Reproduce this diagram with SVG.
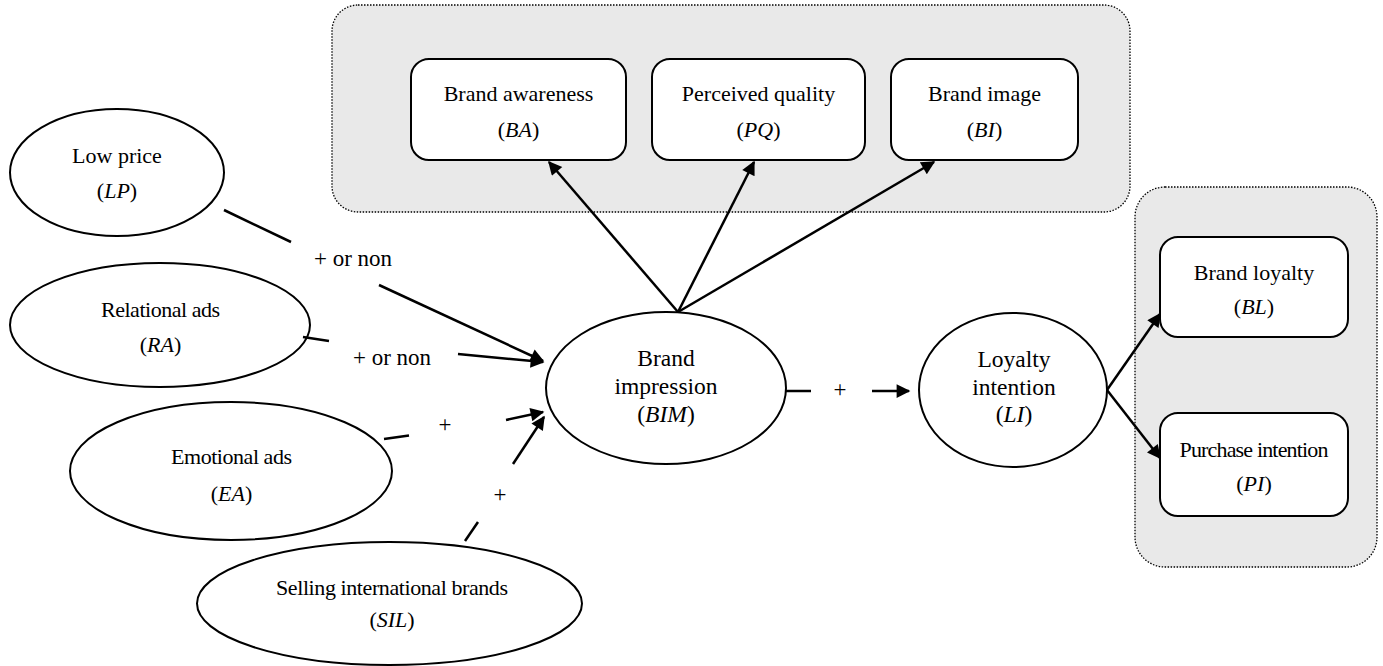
<svg xmlns="http://www.w3.org/2000/svg" width="1383" height="666" viewBox="0 0 1383 666">
<style>
.grp{fill:#e9e9e9;stroke:#000;stroke-width:1.3;stroke-dasharray:1.5 1.5}
.box{fill:#fff;stroke:#000;stroke-width:2}
.ell{fill:#fff;stroke:#000;stroke-width:2}
text{font-family:'Liberation Serif','Times New Roman',serif;font-size:22px;fill:#000;text-anchor:middle}
.big{font-size:23.5px}
.lbl{font-size:23px}
.c{stroke:#000;stroke-width:2.5;fill:none}
.ca{stroke:#000;stroke-width:2.5;fill:none;marker-end:url(#ah)}
</style>
<defs>
<marker id="ah" viewBox="0 0 10 10" refX="9" refY="5" markerWidth="7" markerHeight="5.5" orient="auto" markerUnits="strokeWidth">
<path d="M0,0 L10,5 L0,10 z" fill="#000"/>
</marker>
</defs>
<g id="group-equity"><rect class="grp" x="332" y="5" width="798" height="207" rx="26"/></g>
<g id="group-loyalty"><rect class="grp" x="1135" y="187" width="242" height="380" rx="30"/></g>
<g id="BA"><rect class="box" x="411" y="59" width="215" height="101" rx="18"/><text x="518.5" y="101">Brand awareness</text><text x="518.5" y="137">(<tspan font-style="italic">BA</tspan>)</text></g>
<g id="PQ"><rect class="box" x="652" y="59" width="213" height="101" rx="18"/><text x="758.5" y="101">Perceived quality</text><text x="758.5" y="137">(<tspan font-style="italic">PQ</tspan>)</text></g>
<g id="BI"><rect class="box" x="891" y="59" width="187" height="101" rx="18"/><text x="984.5" y="101">Brand image</text><text x="984.5" y="137">(<tspan font-style="italic">BI</tspan>)</text></g>
<g id="BL"><rect class="box" x="1160" y="237" width="188" height="100" rx="18"/><text x="1254" y="280">Brand loyalty</text><text x="1254" y="314">(<tspan font-style="italic">BL</tspan>)</text></g>
<g id="PI"><rect class="box" x="1160" y="413" width="188" height="103" rx="18"/><text x="1254" y="457" textLength="149" lengthAdjust="spacing">Purchase intention</text><text x="1254" y="491">(<tspan font-style="italic">PI</tspan>)</text></g>
<g id="LP"><ellipse class="ell" cx="117" cy="172.5" rx="107" ry="63.5"/><text x="117" y="163">Low price</text><text x="117" y="198">(<tspan font-style="italic">LP</tspan>)</text></g>
<g id="RA"><ellipse class="ell" cx="160" cy="325" rx="150" ry="62"/><text x="160.5" y="317" textLength="119" lengthAdjust="spacing">Relational ads</text><text x="160.5" y="352">(<tspan font-style="italic">RA</tspan>)</text></g>
<g id="EA"><ellipse class="ell" cx="231" cy="471" rx="161" ry="69"/><text x="231.5" y="464" textLength="121" lengthAdjust="spacing">Emotional ads</text><text x="231.5" y="501">(<tspan font-style="italic">EA</tspan>)</text></g>
<g id="SIL"><ellipse class="ell" cx="389.5" cy="603.5" rx="192.5" ry="61.5"/><text x="392" y="595" textLength="232" lengthAdjust="spacing">Selling international brands</text><text x="392" y="627">(<tspan font-style="italic">SIL</tspan>)</text></g>
<g id="BIM"><ellipse class="ell" cx="666" cy="388" rx="120" ry="76"/><text class="big" x="666" y="366">Brand</text><text class="big" x="666" y="394">impression</text><text class="big" x="666" y="422">(<tspan font-style="italic">BIM</tspan>)</text></g>
<g id="LI"><ellipse class="ell" cx="1013" cy="390" rx="94" ry="77"/><text class="big" x="1014" y="367">Loyalty</text><text class="big" x="1014" y="395">intention</text><text class="big" x="1014" y="422">(<tspan font-style="italic">LI</tspan>)</text></g>
<g id="connectors">
<line class="c" x1="224" y1="210" x2="291" y2="242"/>
<text class="lbl" x="353" y="266">+ or non</text>
<line class="ca" x1="379" y1="285" x2="543" y2="361"/>
<line class="c" x1="303" y1="337" x2="329" y2="341"/>
<text class="lbl" x="392" y="365">+ or non</text>
<line class="ca" x1="458" y1="354" x2="543" y2="362"/>
<line class="c" x1="384" y1="439" x2="409" y2="435.5"/>
<text class="lbl" x="445" y="432">+</text>
<line class="ca" x1="506" y1="420" x2="543" y2="412"/>
<line class="c" x1="465" y1="541" x2="478" y2="522"/>
<text class="lbl" x="500" y="502">+</text>
<line class="ca" x1="513" y1="464" x2="544" y2="417"/>
<line class="c" x1="786" y1="391" x2="811" y2="391"/>
<text class="lbl" x="840" y="397">+</text>
<line class="ca" x1="872" y1="391" x2="909" y2="391"/>
<line class="ca" x1="678" y1="312" x2="549" y2="162"/>
<line class="ca" x1="678" y1="312" x2="754" y2="162"/>
<line class="ca" x1="678" y1="312" x2="934" y2="162"/>
<line class="ca" x1="1107" y1="390" x2="1160" y2="314"/>
<line class="ca" x1="1107" y1="390" x2="1160" y2="458"/>
</g>
</svg>
